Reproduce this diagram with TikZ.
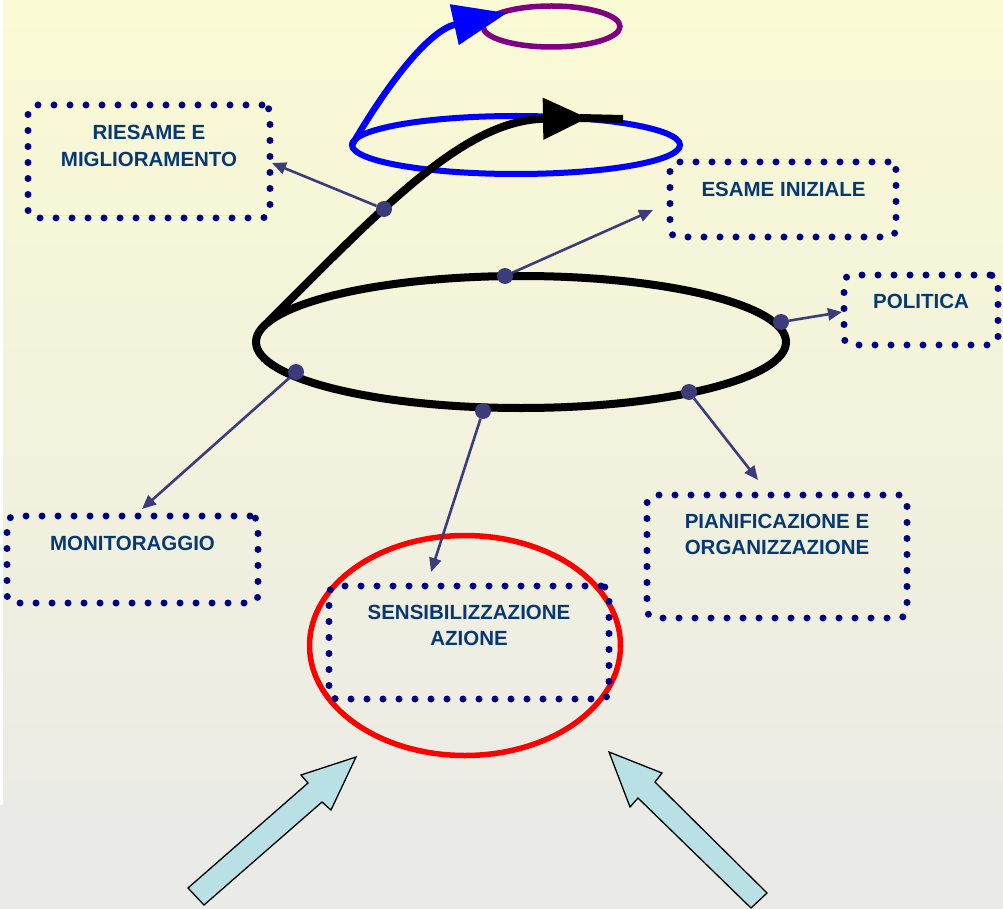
\documentclass[tikz,border=0pt]{standalone}
\usepackage{fontspec}
\setmainfont{Liberation Sans}
\usepackage{tikz}
\usetikzlibrary{
    arrows.meta,
    calc
}
\definecolor{navydot}{RGB}{0,0,128}
\definecolor{labelblue}{RGB}{8,56,114}
\definecolor{linkblue}{RGB}{60,60,122}
\definecolor{bgtop}{RGB}{250,250,212}
\definecolor{bgbottom}{RGB}{235,235,229}
\definecolor{bgstrip}{RGB}{234,234,230}
\definecolor{arrowfill}{RGB}{185,224,228}
\definecolor{spiralpurple}{RGB}{128,0,128}
\tikzset{
    dotbox/.style={draw=navydot,line width=7pt,line cap=round,
      dash pattern=on 0pt off 16pt,rounded corners=8pt,inner sep=0pt}
  }
\tikzset{
    boxtext/.style={text=labelblue,align=center,inner sep=0pt,
      font=\fontsize{20.5}{26.5}\selectfont\bfseries}
  }
\tikzset{
    stud/.style={circle,fill=linkblue,inner sep=0pt,minimum size=16pt}
  }
\tikzset{
    link/.style={draw=linkblue,line width=2.6pt,-{Triangle[length=14pt,width=12pt]}}
  }
\tikzset{
    blockarrow/.style={fill=arrowfill,draw=black,line width=1.3pt,line join=miter}
  }

\begin{document}
\begin{tikzpicture}[x=1pt,y=-1pt]
				\useasboundingbox (0,0) rectangle (1003,909);
				% background
				\fill[white] (0,0) rectangle (1003,909);
				\shade[top color=bgtop,bottom color=bgbottom] (3,0) rectangle (1003,805);
				\fill[bgstrip] (0,805) rectangle (1003,909);

				% spiral
				\draw[spiralpurple,line width=5.5pt] (551.5,26.5) ellipse [x radius=68.5,y radius=20.5];
				\draw[blue,line width=6pt] (516,145) ellipse [x radius=164,y radius=29];
				\draw[blue,line width=6.5pt,-{Triangle[length=54pt,width=40pt]}]
					(352,145) .. controls (390,80) and (430,30) .. (507,13);
				\draw[red,line width=5.5pt] (465,645.5) ellipse [x radius=155.5,y radius=110];
				\draw[line width=8pt] (521,342) ellipse [x radius=265,y radius=66];
				\draw[line width=8pt,-{Triangle[length=45pt,width=40pt]}]
					(268,322) .. controls (385,205) and (465,120) .. (588,118);
				\draw[line width=8pt] (580,118) -- (623,119);

				% boxes
				\node at (149,161.5) [dotbox,minimum width=242pt,minimum height=113pt] (riesame) {};
				\node at (783,199.5) [dotbox,minimum width=226pt,minimum height=75pt] (esame) {};
				\node at (921,310) [dotbox,minimum width=154pt,minimum height=70pt] (politica) {};
				\node at (132.5,559.5) [dotbox,minimum width=251pt,minimum height=87pt] (monitor) {};
				\node at (777,556.5) [dotbox,minimum width=260pt,minimum height=123pt] (pianif) {};
				\node at (469,642.5) [dotbox,minimum width=280pt,minimum height=113pt] (sensib) {};

				\node at (149,146) [boxtext] (riesametxt) {RIESAME E\\MIGLIORAMENTO};
				\node at (783.5,189) [boxtext] (esametxt) {ESAME INIZIALE};
				\node at (921,301.5) [boxtext] (politicatxt) {POLITICA};
				\node at (132.5,543.5) [boxtext] (monitortxt) {MONITORAGGIO};
				\node at (777,534.5) [boxtext] (pianiftxt) {PIANIFICAZIONE E\\ORGANIZZAZIONE};
				\node at (469,625.5) [boxtext] (sensibtxt) {SENSIBILIZZAZIONE\\AZIONE};

				% studs on the spiral and their links
				\node at (384,209) [stud] (s1) {};
				\node at (505,276) [stud] (s2) {};
				\node at (781,322) [stud] (s3) {};
				\node at (689,392) [stud] (s4) {};
				\node at (483,411) [stud] (s5) {};
				\node at (296,372) [stud] (s6) {};
				\coordinate (t1) at (272,163);
				\coordinate (t2) at (653,210);
				\coordinate (t3) at (842,312);
				\coordinate (t4) at (758,480);
				\coordinate (t5) at (431,572);
				\coordinate (t6) at (142,509);
				\foreach \i in {1,...,6}
					\draw[link] (s\i) -- (t\i);

				% block arrows
				\draw[blockarrow] (188,888) -- (308,783) -- (301,775) -- (356,757)
					-- (331,810) -- (322,802) -- (204,905) -- cycle;
				\draw[blockarrow] (609,752) -- (662,773) -- (655,782) -- (767,893)
					-- (751,908) -- (638,798) -- (630,807) -- cycle;
			\end{tikzpicture}
\end{document}
